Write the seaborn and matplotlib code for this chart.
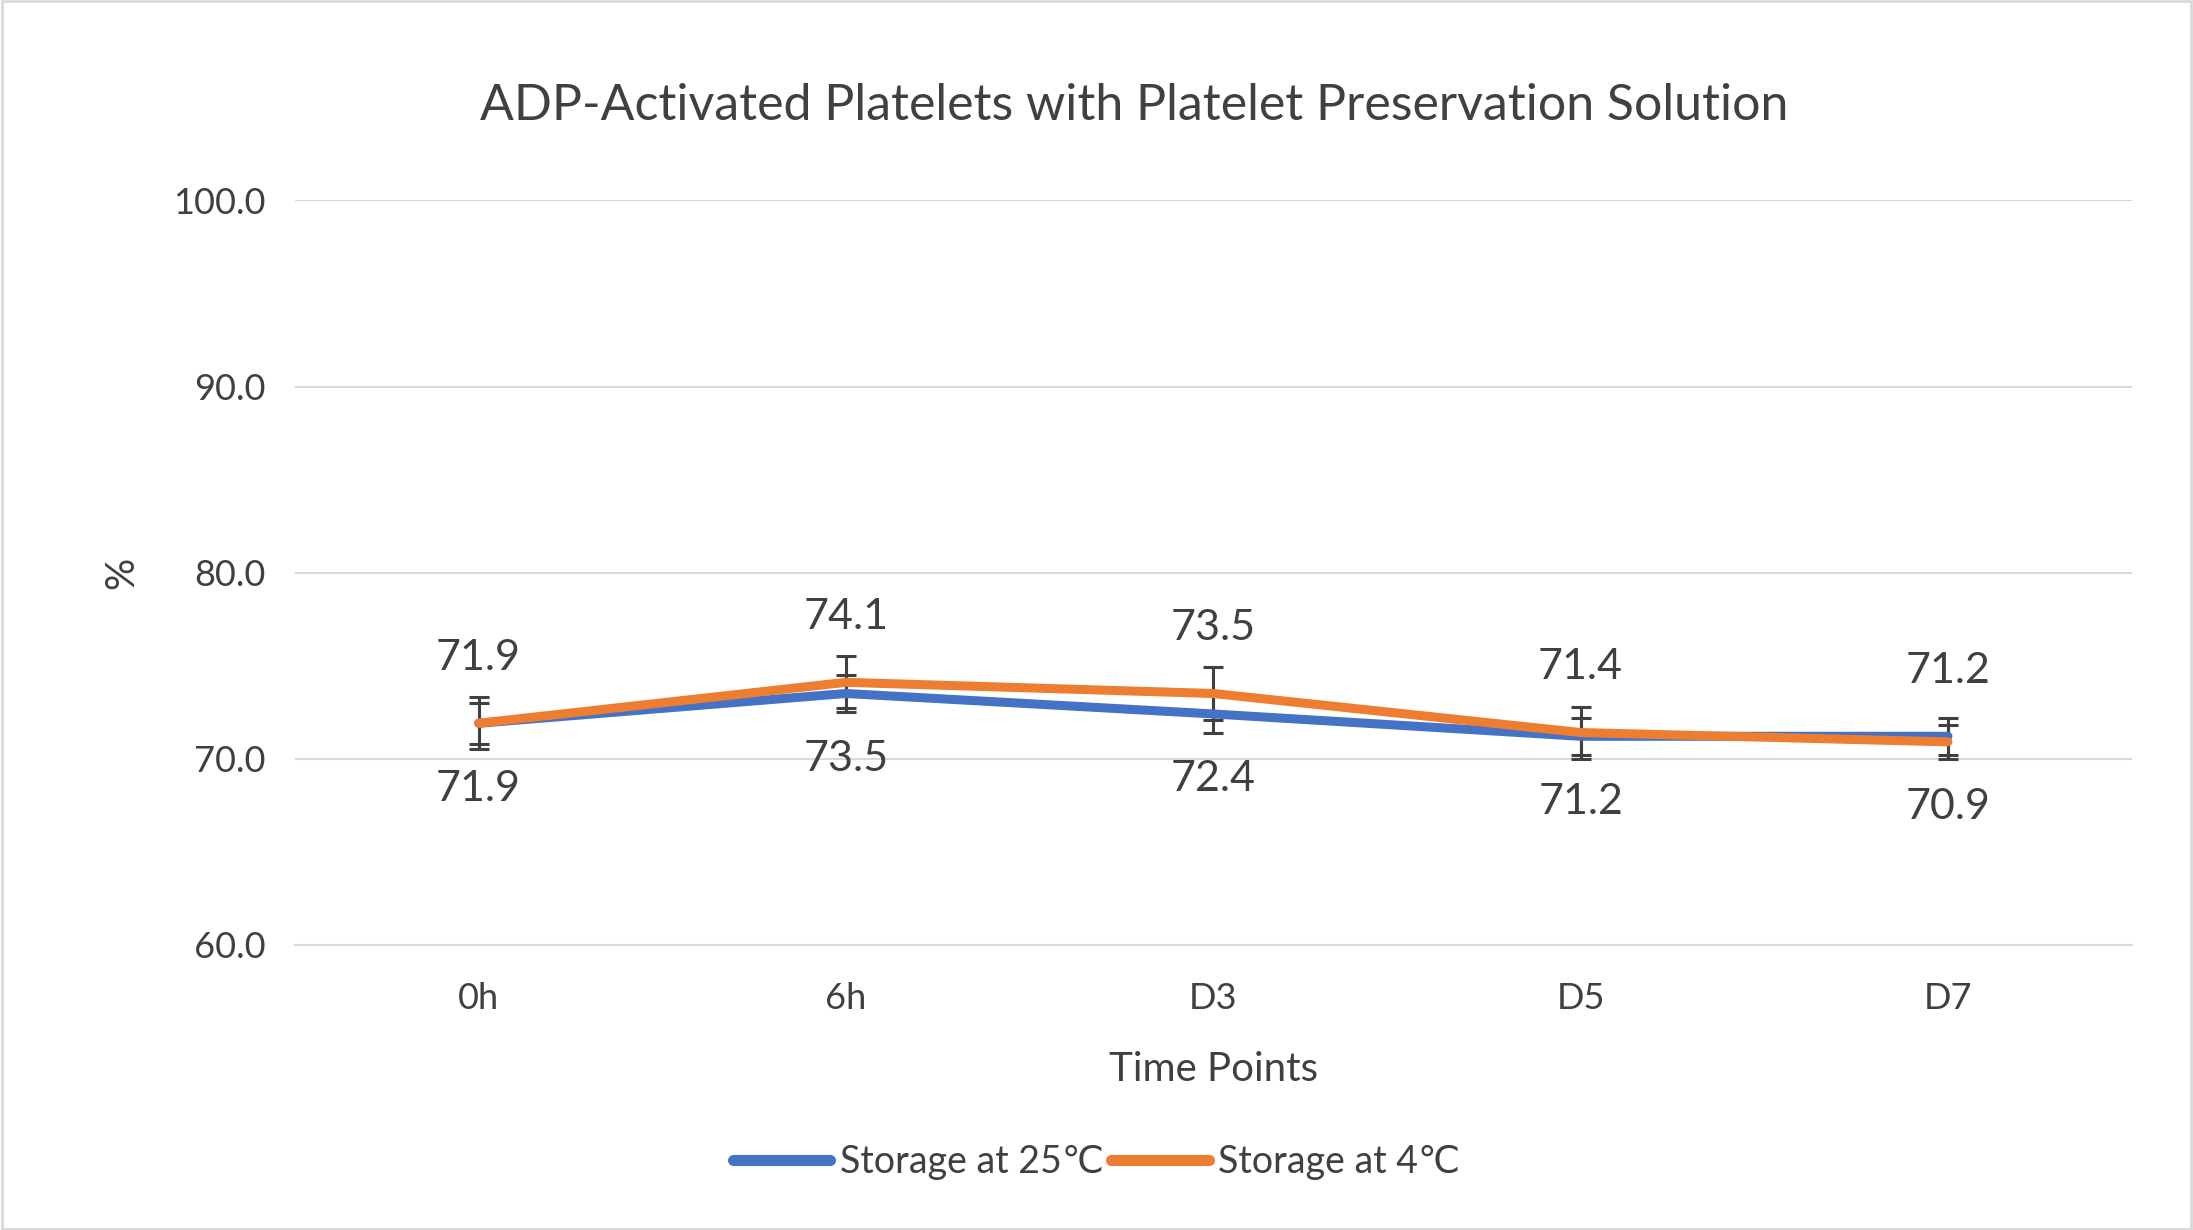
#!/usr/bin/env python3

import matplotlib

matplotlib.use("Agg")
import matplotlib.pyplot as plt
import pandas as pd
import seaborn as sns

# Values
time_points = ["0h", "6h", "D3", "D5", "D7"]
series_names = ["Storage at 25\u2103", "Storage at 4\u2103"]
values_25c = [71.9, 73.5, 72.4, 71.2, 71.2]
values_4c = [71.9, 74.1, 73.5, 71.4, 70.9]
err_25c = [1.1, 1.0, 1.0, 1.0, 1.0]
err_4c = [1.4, 1.4, 1.4, 1.4, 0.9]
y_ticks = [60.0, 70.0, 80.0, 90.0, 100.0]

colors = {series_names[0]: "#4472C4", series_names[1]: "#ED7D31"}
text_color = "#404040"
grid_color = "#D9D9D9"

sns.set_theme(style="white")
plt.rcParams["font.family"] = ["Lato", "DejaVu Sans"]

df = pd.DataFrame(
    {
        "time": time_points * 2,
        "value": values_25c + values_4c,
        "err": err_25c + err_4c,
        "series": [series_names[0]] * 5 + [series_names[1]] * 5,
    }
)

fig = plt.figure(figsize=(21.93, 12.3), dpi=100)
ax = fig.add_axes([0.1345, 0.232, 0.8375, 0.605])

# error bars first so lines sit on top
for name in series_names:
    sub = df[df.series == name]
    ax.errorbar(
        range(len(sub)),
        sub.value,
        yerr=sub.err,
        fmt="none",
        ecolor=text_color,
        elinewidth=2.2,
        capsize=7,
        capthick=2.2,
        zorder=2,
    )

sns.lineplot(
    data=df,
    x="time",
    y="value",
    hue="series",
    hue_order=series_names,
    palette=colors,
    linewidth=6.5,
    sort=False,
    ax=ax,
    zorder=3,
    solid_capstyle="round",
)

# data labels: higher series above, lower below (orange above on ties)
for i in range(len(time_points)):
    b, o = values_25c[i], values_4c[i]
    if b > o:
        pairs = [(b, 1), (o, -1)]
    else:
        pairs = [(o, 1), (b, -1)]
    for val, sign in pairs:
        ax.annotate(
            f"{val:.1f}",
            (i, val),
            xytext=(0, sign * 47),
            textcoords="offset points",
            ha="center",
            va="center",
            fontsize=31,
            color=text_color,
        )

ax.set_xlim(-0.5, len(time_points) - 0.5)
ax.set_ylim(60, 100)
ax.set_yticks(y_ticks)
ax.set_yticklabels([f"{t:.1f}" for t in y_ticks])
ax.tick_params(axis="both", length=0, labelsize=26, colors=text_color)
ax.tick_params(axis="x", pad=27)
ax.tick_params(axis="y", pad=21)
ax.yaxis.grid(True, color=grid_color, linewidth=1.5)
ax.set_axisbelow(True)
for side in ["top", "right", "left"]:
    ax.spines[side].set_visible(False)
ax.spines["bottom"].set_color(grid_color)
ax.spines["bottom"].set_linewidth(1.5)

ax.set_xlabel("Time Points", fontsize=29, color=text_color, labelpad=26)
ax.set_ylabel("%", fontsize=29, color=text_color, labelpad=24)
fig.suptitle(
    "ADP-Activated Platelets with Platelet Preservation Solution",
    fontsize=36,
    color=text_color,
    x=0.517,
    y=0.914,
    va="center",
)

handles, labels = ax.get_legend_handles_labels()
for h in handles:
    h.set_linewidth(8)
ax.legend(
    handles=handles,
    labels=labels,
    loc="center",
    bbox_to_anchor=(0.5, 0.055),
    bbox_transform=fig.transFigure,
    ncol=2,
    frameon=False,
    fontsize=27,
    handlelength=2.6,
    handletextpad=0.25,
    columnspacing=0.2,
    labelcolor=text_color,
)

# thin light border around the whole chart
fig.patches.append(
    plt.Rectangle(
        (0.001, 0.001),
        0.998,
        0.998,
        transform=fig.transFigure,
        fill=False,
        edgecolor=grid_color,
        linewidth=2,
    )
)

fig.savefig("out.png", dpi=100)
